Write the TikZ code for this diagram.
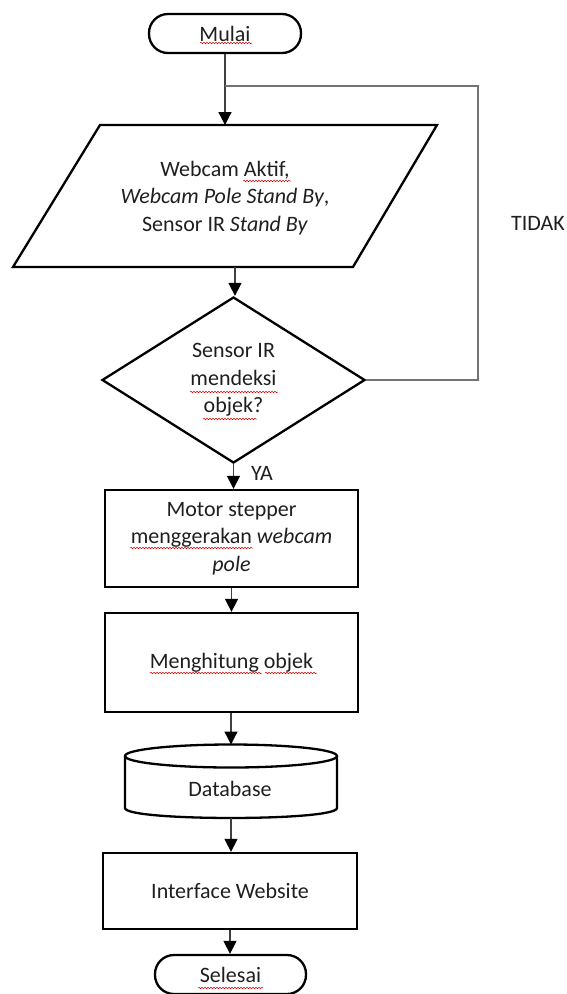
\documentclass[tikz,border=0pt]{standalone}
\usepackage{fontspec}
\setmainfont{Carlito}
\usetikzlibrary{arrows.meta,shapes.geometric,decorations.pathmorphing}
\begin{document}
\begin{tikzpicture}[x=1pt,y=-1pt,
  font=\fontsize{22}{27.5}\selectfont,
  every node/.style={text=black!88},
  outline/.style={draw=black,line width=2.3pt,line join=miter},
  terminal/.style={outline,rounded corners=19pt,minimum width=152pt,minimum height=39pt,inner sep=0pt},
  procbox/.style={outline,minimum width=253pt,align=center,inner sep=0pt},
  decision/.style={outline,diamond,aspect=1.58,minimum width=263pt,minimum height=166pt,inner sep=0pt,align=center},
  conn/.style={draw=black!75,line width=1.3pt,-{Triangle[width=13pt,length=13pt,color=black]}},
  loopline/.style={draw=black!55,line width=1.4pt},
  squiggle/.style={draw=red!85!black,line width=0.5pt,decorate,decoration={snake,segment length=3pt,amplitude=0.8pt}}
]
\useasboundingbox (0,0) rectangle (566,994);

% shapes
\node[terminal] (start) at (225,33.5) {Mulai};

\draw[outline] (100,125) -- (437,125) -- (353,267) -- (13,267) -- cycle;
\node[align=center] (io) at (225,198) {Webcam Aktif,\\\textit{Webcam Pole Stand By},\\Sensor IR \textit{Stand By}};
\coordinate (ioTop) at (225,125);
\coordinate (ioBot) at (235,267);

\node[decision] (dec) at (233.5,380) {Sensor IR\\mendeksi\\objek?};

\node[procbox,minimum height=97pt] (mot) at (231.5,538.5) {Motor stepper\\menggerakan \textit{webcam}\\\textit{pole}};
\node[procbox,minimum height=99pt] (cnt) at (231.5,662.5) {Menghitung objek};

% database cylinder
\draw[outline] (125,756) -- (125,808) .. controls (125,821.3) and (337,821.3) .. (337,808) -- (337,756);
\draw[outline] (231,756) ellipse [x radius=106, y radius=11.5];
\node (db) at (230,789) {Database};
\coordinate (dbTop) at (231,744.5);
\coordinate (dbBot) at (231,818);

\node[procbox,minimum height=76pt,minimum width=254pt] (web) at (230,891) {Interface Website};
\node[terminal,minimum width=151pt] (stop) at (230.5,974.5) {Selesai};

% connectors
\coordinate (jn) at (225,86);
\coordinate (loopR) at (478,86);
\draw[conn] (start.south) -- (start.south |- ioTop);
\draw[loopline] (dec.east) -| (loopR) -- (jn);
\node (tidak) at (538,223) {TIDAK};
\draw[conn] (ioBot) -- (ioBot |- dec.north);
\draw[conn] (dec.south) -- (dec.south |- mot.north);
\node (ya) at (262,473) {YA};
\draw[conn] (mot.south) -- (mot.south |- cnt.north);
\draw[conn] (cnt.south -| dbTop) -- (dbTop);
\draw[conn] (dbBot) -- (dbBot |- web.north);
\draw[conn] (web.south) -- (web.south |- stop.north);

% spell-check underlines
\draw[squiggle] (200,43) -- (252,43);
\draw[squiggle] (243,181) -- (291,181);
\draw[squiggle] (190,392) -- (278,392);
\draw[squiggle] (203,419) -- (257,419);
\draw[squiggle] (130,548) -- (253,548);
\draw[squiggle] (150,673) -- (262,673);
\draw[squiggle] (265,673) -- (317,673);
\draw[squiggle] (198,988) -- (263,988);
\end{tikzpicture}
\end{document}
